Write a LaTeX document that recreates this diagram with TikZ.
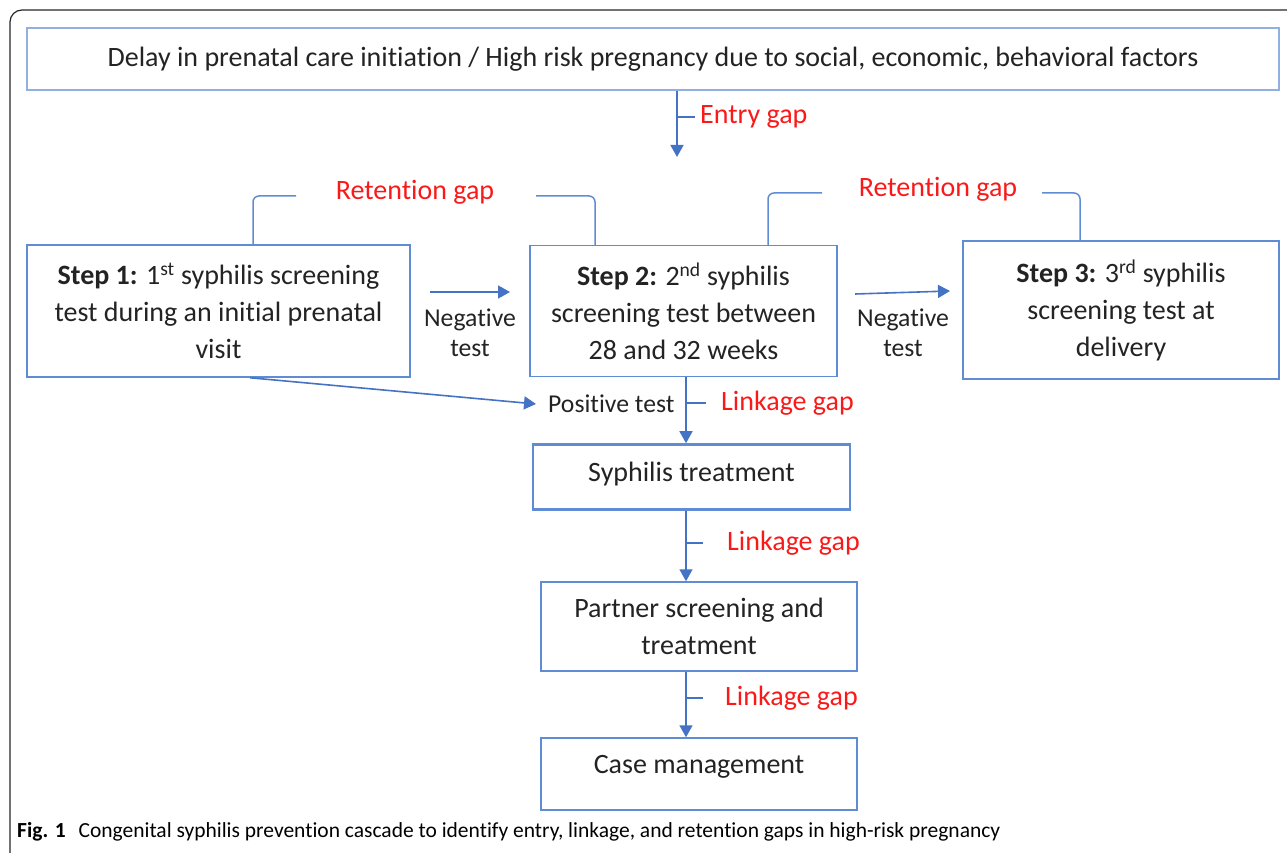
\documentclass[tikz,border=0pt]{standalone}
\usepackage{fontspec}
\setmainfont{Carlito}[Ligatures=NoCommon]
\usetikzlibrary{arrows.meta}

\definecolor{boxblue}{RGB}{95,140,212}
\definecolor{lightblue}{RGB}{145,175,225}
\definecolor{arrblue}{RGB}{68,114,196}
\definecolor{gapred}{RGB}{250,25,25}
\definecolor{textgray}{RGB}{35,35,35}

\newcommand{\boxfont}{\fontsize{28}{37}\selectfont}
\newcommand{\labfont}{\fontsize{25.7}{30}\selectfont}
\newcommand{\capfont}{\fontsize{21.5}{25}\selectfont}

\tikzset{
  stepbox/.style={draw=boxblue,line width=1.5pt,align=center,inner sep=0pt,text=textgray,font=\boxfont},
  gaplabel/.style={inner sep=0pt,text=gapred,font=\boxfont},
  smalllabel/.style={inner sep=0pt,align=center,text=textgray,font=\labfont},
  flowarrow/.style={draw=arrblue,line width=1.6pt,-{Triangle[width=13pt,length=12pt]}},
  tick/.style={draw=arrblue,line width=1.4pt},
  bracket/.style={draw=boxblue,line width=1.5pt,rounded corners=6pt}
}

\begin{document}
\begin{tikzpicture}[x=1pt,y=1pt,yscale=-1]
\useasboundingbox (0,0) rectangle (1287,853);
\clip (0,0) rectangle (1287,853);

% outer frame
\draw[black!85,line width=1.2pt,rounded corners=12pt] (10,10) rectangle (1320,866);

% boxes
\node[stepbox,draw=lightblue,minimum width=1252pt,minimum height=62pt] (delay) at (653,59) {Delay in prenatal care initiation / High risk pregnancy due to social, economic, behavioral factors};
\node[stepbox,minimum width=383pt,minimum height=132pt] (step1) at (218.5,311) {\textbf{Step 1:} 1\textsuperscript{st} syphilis screening\\test during an initial prenatal\\visit};
\node[stepbox,minimum width=307pt,minimum height=131pt] (step2) at (683.5,311) {\textbf{Step 2:} 2\textsuperscript{nd} syphilis\\screening test between\\28 and 32 weeks};
\node[stepbox,minimum width=316pt,minimum height=138pt] (step3) at (1121,310) {\textbf{Step 3:} 3\textsuperscript{rd} syphilis\\screening test at\\delivery};
\node[stepbox,line width=2.6pt,minimum width=317pt,minimum height=65pt,text depth=10pt] (treat) at (691.5,477) {Syphilis treatment};
\node[stepbox,minimum width=316pt,minimum height=89pt] (partner) at (699,626.5) {Partner screening and\\treatment};
\node[stepbox,minimum width=316pt,minimum height=72pt,text depth=20pt] (casemgmt) at (699,774) {Case management};

% labels
\node[gaplabel,anchor=west] (entrygap) at (700,117) {Entry gap};
\node[gaplabel] (ret1) at (415,192) {Retention gap};
\node[gaplabel] (ret2) at (938,189) {Retention gap};
\node[gaplabel,anchor=west] (link1) at (721,403) {Linkage gap};
\node[gaplabel,anchor=west] (link2) at (727,543) {Linkage gap};
\node[gaplabel,anchor=west] (link3) at (725,698) {Linkage gap};
\node[smalllabel] (neg1) at (470,333) {Negative\\test};
\node[smalllabel] (neg2) at (903,333) {Negative\\test};
\node[smalllabel,anchor=west] (postest) at (548,404) {Positive test};

% entry
\coordinate (entryend) at (677,157);
\draw[flowarrow] (delay.south -| entryend) -- (entryend);
\draw[tick] (entrygap.west -| entryend) -- ([xshift=-5pt]entrygap.west);

% retention brackets
\coordinate (r1l) at (296,196);
\coordinate (r1r) at (536,196);
\draw[bracket] (step1.north -| 253,0) |- (r1l);
\draw[bracket] (r1r) -| (step2.north -| 595,0);
\coordinate (r2l) at (822,193);
\coordinate (r2r) at (1042,193);
\draw[bracket] (step2.north -| 768,0) |- (r2l);
\draw[bracket] (r2r) -| (step3.north -| 1080,0);

% negative tests
\coordinate (n1a) at (430,292);
\coordinate (n1b) at (510,292);
\draw[flowarrow] (n1a) -- (n1b);
\coordinate (n2a) at (855,294);
\coordinate (n2b) at (950,291);
\draw[flowarrow] (n2a) -- (n2b);

% positive test and linkage
\draw[flowarrow] (step1.south -| 250,0) -- ([xshift=-12pt]postest.west);
\draw[flowarrow] (step2.south -| 686,0) -- (treat.north -| 686,0);
\draw[tick] (link1.west -| 686,0) -- ([xshift=-15pt]link1.west);
\draw[flowarrow] (treat.south -| 686,0) -- (partner.north -| 686,0);
\draw[tick] (link2.west -| 686,0) -- ([xshift=-24pt]link2.west);
\draw[flowarrow] (partner.south -| 686,0) -- (casemgmt.north -| 686,0);
\draw[tick] (link3.west -| 686,0) -- ([xshift=-22pt]link3.west);

% caption
\node[anchor=west,inner sep=0pt,font=\capfont] (caption) at (17,832) {\textbf{Fig. 1}\hspace{0.6em}Congenital syphilis prevention cascade to identify entry, linkage, and retention gaps in high-risk pregnancy};
\end{tikzpicture}
\end{document}
